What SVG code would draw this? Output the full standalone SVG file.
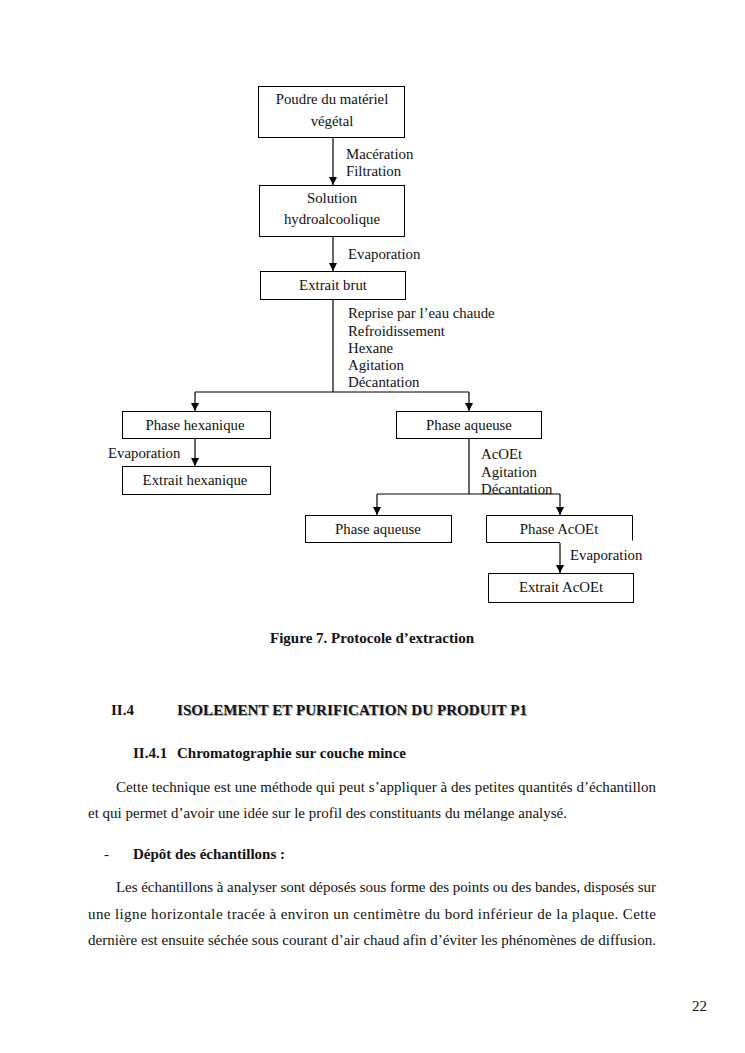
<svg xmlns="http://www.w3.org/2000/svg" width="745" height="1053" viewBox="0 0 745 1053">
<defs>
<marker id="ah" viewBox="0 0 10 10" refX="10" refY="5" markerWidth="8" markerHeight="8" markerUnits="userSpaceOnUse" orient="auto">
<path d="M0,0 L10,5 L0,10 z" fill="#000"/>
</marker>
<style>
text{font-family:"Liberation Serif","Times New Roman",serif;fill:#111;}
.t{font-size:14.8px;}
.c{text-anchor:middle;}
.b{font-weight:bold;}
.p{font-size:15px;}
.box{fill:#fff;stroke:#000;stroke-width:1;}
.ln{fill:none;stroke:#000;stroke-width:1.2;}
.ar{fill:none;stroke:#000;stroke-width:1.2;marker-end:url(#ah);}
</style>
</defs>
<rect width="745" height="1053" fill="#fff"/>

<g id="connectors">
<line class="ar" x1="333" y1="138" x2="333" y2="185"/>
<line class="ar" x1="333" y1="237" x2="333" y2="271"/>
<line class="ln" x1="333" y1="300" x2="333" y2="392"/>
<polyline class="ln" points="195,392 469,392"/>
<line class="ar" x1="195" y1="392" x2="195" y2="411"/>
<line class="ar" x1="469" y1="392" x2="469" y2="411"/>
<line class="ar" x1="195" y1="439" x2="195" y2="466"/>
<line class="ln" x1="469" y1="439" x2="469" y2="494"/>
<polyline class="ln" points="377,494 560,494"/>
<line class="ar" x1="377" y1="494" x2="377" y2="515"/>
<line class="ar" x1="560" y1="494" x2="560" y2="515"/>
<line class="ar" x1="560" y1="543" x2="560" y2="573"/>
</g>

<g id="n1"><rect class="box" x="258.5" y="86.5" width="146" height="51"/>
<text class="t c" x="332" y="104">Poudre du matériel</text>
<text class="t c" x="332" y="126">végétal</text></g>
<g id="l1"><text class="t" x="346" y="159">Macération</text><text class="t" x="346" y="176">Filtration</text></g>
<g id="n2"><rect class="box" x="259.5" y="185.5" width="145" height="51"/>
<text class="t c" x="332" y="203">Solution</text>
<text class="t c" x="332" y="224">hydroalcoolique</text></g>
<g id="l2"><text class="t" x="348" y="259">Evaporation</text></g>
<g id="n3"><rect class="box" x="260.5" y="271.5" width="145" height="28"/>
<text class="t c" x="333" y="290">Extrait brut</text></g>
<g id="l3"><text class="t" x="348" y="318">Reprise par l’eau chaude</text>
<text class="t" x="348" y="336">Refroidissement</text>
<text class="t" x="348" y="353">Hexane</text>
<text class="t" x="348" y="370">Agitation</text>
<text class="t" x="348" y="387">Décantation</text></g>
<g id="n4"><rect class="box" x="122.5" y="411.5" width="148" height="27"/>
<text class="t c" x="195" y="430">Phase hexanique</text></g>
<g id="l4"><text class="t" x="108" y="458">Evaporation</text></g>
<g id="n5"><rect class="box" x="122.5" y="466.5" width="148" height="28"/>
<text class="t c" x="195" y="485">Extrait hexanique</text></g>
<g id="n6"><rect class="box" x="396.5" y="411.5" width="145" height="27"/>
<text class="t c" x="469" y="430">Phase aqueuse</text></g>
<g id="l6"><text class="t" x="481" y="459">AcOEt</text><text class="t" x="481" y="477">Agitation</text><text class="t" x="481" y="494">Décantation</text></g>
<g id="n7"><rect class="box" x="305.5" y="515.5" width="146" height="27"/>
<text class="t c" x="378" y="534">Phase aqueuse</text></g>
<g id="n8"><path class="ln" style="stroke-width:1" d="M560,542.5 H486.5 V515.5 H632.5 V540.5"/>
<text class="t c" x="559" y="534">Phase AcOEt</text></g>
<g id="l8"><text class="t" x="570" y="560">Evaporation</text></g>
<g id="n9"><rect class="box" x="488.5" y="573.5" width="145" height="29"/>
<text class="t c" x="561" y="592">Extrait AcOEt</text></g>

<g id="page">
<text class="p b" x="270" y="643" textLength="204">Figure 7. Protocole d’extraction</text>
<text class="p b" x="111" y="715">II.4</text>
<text class="p b" x="178" y="716" style="fill:#aaa" textLength="350">ISOLEMENT ET PURIFICATION DU PRODUIT P1</text>
<text class="p b" x="177" y="715" textLength="350">ISOLEMENT ET PURIFICATION DU PRODUIT P1</text>
<text class="p b" x="133" y="758">II.4.1</text>
<text class="p b" x="177" y="758" textLength="229">Chromatographie sur couche mince</text>
<text class="p" x="116" y="792" textLength="540">Cette technique  est une méthode qui peut s’appliquer à des petites quantités d’échantillon</text>
<text class="p" x="88" y="818" textLength="479">et qui permet d’avoir une idée sur le profil des constituants du mélange analysé.</text>
<text class="p" x="104" y="859">-</text>
<text class="p b" x="133" y="859" textLength="152">Dépôt des échantillons :</text>
<text class="p" x="116" y="892" textLength="540">Les échantillons à analyser sont déposés sous forme des points ou des bandes, disposés sur</text>
<text class="p" x="88" y="919" textLength="568">une ligne horizontale tracée à environ un centimètre du bord inférieur de la plaque. Cette</text>
<text class="p" x="88" y="945" textLength="568">dernière est ensuite séchée sous courant d’air chaud afin d’éviter les phénomènes de diffusion.</text>
<text class="p" x="692" y="1011">22</text>
</g>
</svg>
